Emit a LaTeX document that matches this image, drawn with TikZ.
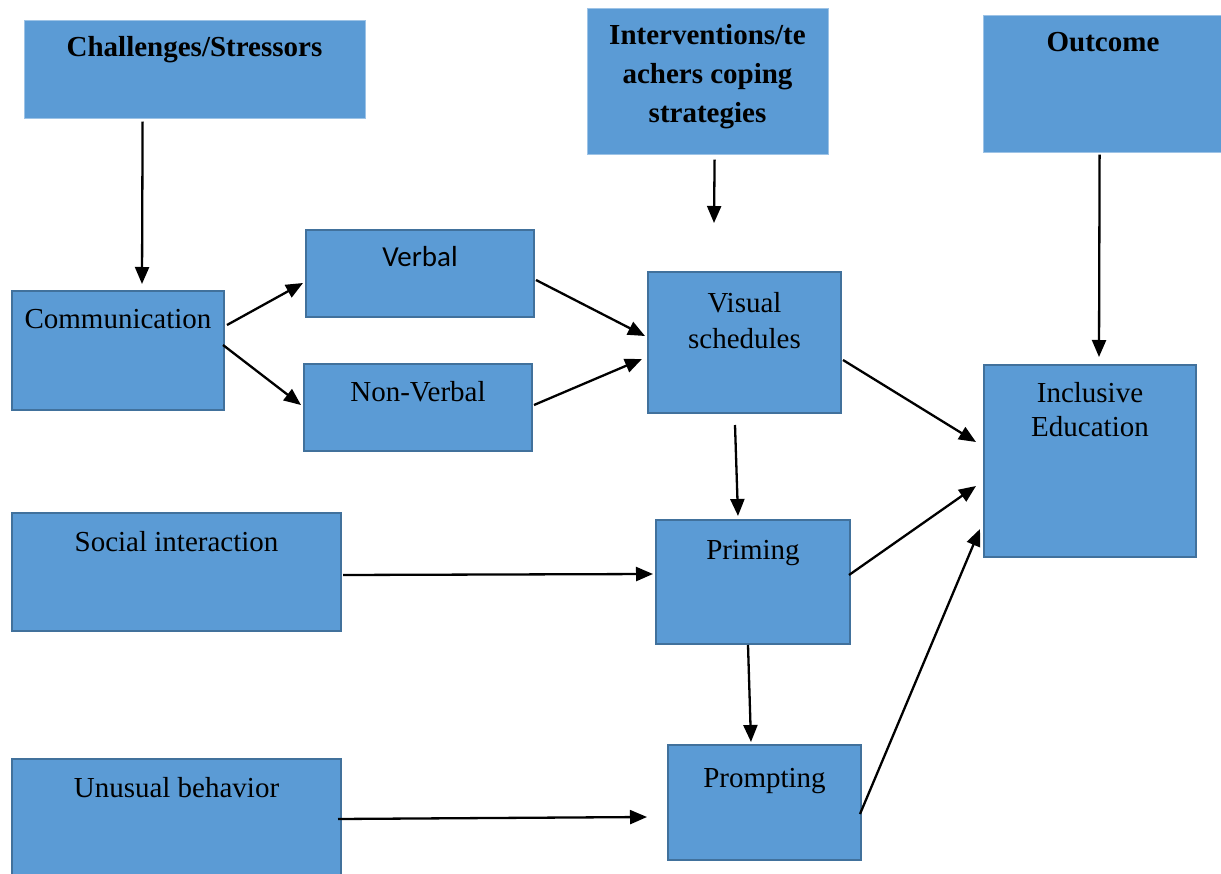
\documentclass[tikz,border=0pt]{standalone}
\usepackage{fontspec}
\setmainfont{Liberation Serif}
\newfontfamily\calfont{Carlito}
\usetikzlibrary{arrows.meta,calc}
\definecolor{boxfill}{HTML}{5B9BD5}
\definecolor{boxline}{HTML}{41719C}
\definecolor{headline}{HTML}{9DC3E6}
\begin{document}
\begin{tikzpicture}[x=1pt,y=-1pt,
  box/.style={rectangle, fill=boxfill, draw=boxline, line width=2pt, inner sep=0pt},
  headbox/.style={rectangle, fill=boxfill, draw=headline, line width=0.8pt, inner sep=0pt},
  txt/.style={font=\fontsize{29}{34}\selectfont, inner sep=0pt, anchor=base, align=center},
  arr/.style={line width=2.3pt, -{Triangle[length=17pt,width=14pt]}}]
\clip (0,0) rectangle (1221,874);
\fill[white] (0,0) rectangle (1221,874);
% header boxes
\node[headbox, minimum width=341pt, minimum height=98pt,
  label={[txt, font=\fontsize{29}{34}\selectfont\bfseries, yshift=-37pt]north:Challenges/Stressors}] (chal) at (194.5,69) {};
\node[headbox, minimum width=241pt, minimum height=146pt,
  label={[txt, font=\fontsize{29}{39}\selectfont\bfseries, yshift=-115pt]north:Interventions/te\\achers coping\\strategies}] (inter) at (707.5,81) {};
\node[headbox, minimum width=260pt, minimum height=137pt,
  label={[txt, font=\fontsize{29}{34}\selectfont\bfseries, xshift=-10pt, yshift=-37pt]north:Outcome}] (outc) at (1113,83.5) {};
% boxes
\node[box, minimum width=212pt, minimum height=119pt,
  label={[txt, yshift=-39pt]north:Communication}] (comm) at (118,350.5) {};
\node[box, minimum width=228pt, minimum height=87pt,
  label={[txt, font=\fontsize{29}{34}\selectfont\calfont, yshift=-38pt]north:Verbal}] (verb) at (420,273.5) {};
\node[box, minimum width=228pt, minimum height=87pt,
  label={[txt, yshift=-39pt]north:Non-Verbal}] (nonv) at (418,407.5) {};
\node[box, minimum width=193pt, minimum height=141pt,
  label={[txt, font=\fontsize{29}{36}\selectfont, yshift=-78pt]north:Visual\\schedules}] (vis) at (744.5,342.5) {};
\node[box, minimum width=212pt, minimum height=192pt,
  label={[txt, font=\fontsize{29}{34}\selectfont, yshift=-72pt]north:Inclusive\\Education}] (incl) at (1090,461) {};
\node[box, minimum width=329pt, minimum height=118pt,
  label={[txt, yshift=-39pt]north:Social interaction}] (soc) at (176.5,572) {};
\node[box, minimum width=194pt, minimum height=124pt,
  label={[txt, yshift=-40pt]north:Priming}] (prim) at (753,582) {};
\node[box, minimum width=329pt, minimum height=140pt,
  label={[txt, yshift=-39pt]north:Unusual behavior}] (unus) at (176.5,829) {};
\node[box, minimum width=193pt, minimum height=115pt,
  label={[txt, yshift=-43pt]north:Prompting}] (prom) at (764.5,802.5) {};
% arrows
\draw[arr] ($(chal.north west)+(119,102)$) -- ($(comm.north west)+(131,-6)$);
\draw[arr] ($(inter.north west)+(128,152)$) -- ($(vis.north west)+(67,-48)$);
\draw[arr] ($(outc.north west)+(117,140)$) -- ($(incl.north west)+(116,-7)$);
\draw[arr] ($(comm.north west)+(216,35)$) -- ($(verb.north west)+(-2,54)$);
\draw[arr] ($(comm.north west)+(212,55)$) -- ($(nonv.north west)+(-2,42)$);
\draw[arr] ($(verb.north west)+(231,51)$) -- ($(vis.north west)+(-2,65)$);
\draw[arr] ($(nonv.north west)+(231,42)$) -- ($(vis.north west)+(-5,88)$);
\draw[arr] ($(vis.north west)+(196,89)$) -- ($(incl.north west)+(-7,78)$);
\draw[arr] ($(vis.north west)+(88,154)$) -- ($(prim.north west)+(83,-3)$);
\draw[arr] ($(soc.north west)+(332,63)$) -- ($(prim.north west)+(-2,55)$);
\draw[arr] ($(prim.north west)+(194,56)$) -- ($(incl.north west)+(-7,122)$);
\draw[arr] ($(prim.north west)+(93,126)$) -- ($(prom.north west)+(84,-2)$);
\draw[arr] ($(prom.north west)+(193,70)$) -- ($(incl.north west)+(-3,165)$);
\draw[arr] ($(unus.north west)+(327,61)$) -- ($(prom.north west)+(-20,73)$);
\end{tikzpicture}
\end{document}
